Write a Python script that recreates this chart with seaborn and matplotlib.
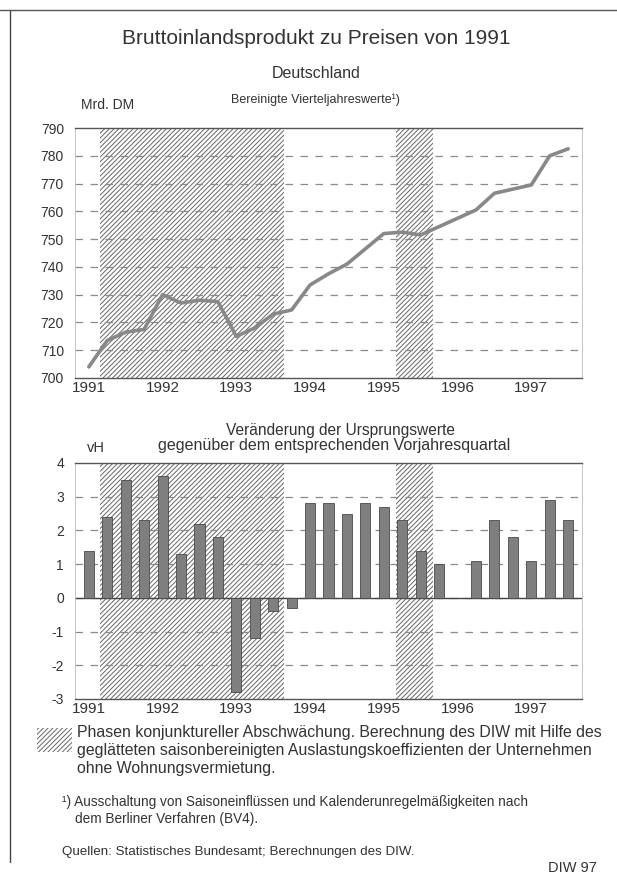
import numpy as np
import pandas as pd
import matplotlib
matplotlib.use('Agg')
from matplotlib import pyplot as plt
from matplotlib.patches import Rectangle
from matplotlib.lines import Line2D
from matplotlib.ticker import FuncFormatter
import seaborn as sns

# quarterly data 1991 Q1 .. 1997 Q3
quarters = list(range(27))
bip = [704, 713.5, 716.5, 717.5, 730, 727, 728, 727.5,
       715, 718, 723, 724.5, 733.5, 737.5, 741, 746.5,
       752, 752.5, 751.5, 754.5, 757.5, 760.5, 766.5, 768,
       769.5, 780, 782.5]
vh = [1.4, 2.4, 3.5, 2.3, 3.6, 1.3, 2.2, 1.8,
      -2.8, -1.2, -0.4, -0.3, 2.8, 2.8, 2.5, 2.8,
      2.7, 2.3, 1.4, 1.0, np.nan, 1.1, 2.3, 1.8,
      1.1, 2.9, 2.3]
years = ['1991', '1992', '1993', '1994', '1995', '1996', '1997']
# phases of economic slowdown (in quarter units)
phases = [(0.6, 10.6), (16.65, 18.65)]

df_line = pd.DataFrame({'q': quarters, 'bip': bip})
df_bar = pd.DataFrame({'q': quarters, 'vh': vh})

sns.set_style('white')
plt.rcParams['font.family'] = ['Liberation Sans', 'DejaVu Sans']
plt.rcParams['hatch.linewidth'] = 0.7
plt.rcParams['hatch.color'] = '#666666'

W, H = 617, 875
fig = plt.figure(figsize=(W / 100, H / 100), dpi=100)
fig.patch.set_facecolor('white')

def box(x0, y0, x1, y1):
    return [x0 / W, 1 - y1 / H, (x1 - x0) / W, (y1 - y0) / H]

def ft(x, y, s, **kw):
    fig.text(x / W, 1 - y / H, s, color='#333333', **kw)

TXT = '#333333'
GRID = '#8a8a8a'
HATCH = '///////'

def style_axis(ax, yticks):
    ax.set_xlim(-0.75, 26.75)
    for a, b in phases:
        ax.axvspan(a, b, facecolor='white', edgecolor='#666666', hatch=HATCH,
                   linewidth=0, zorder=0)
    ax.set_yticks(yticks)
    ax.yaxis.set_major_formatter(FuncFormatter(lambda v, p: '%d' % v))
    for t in yticks[1:-1]:
        ax.axhline(t, color=GRID, lw=0.9, ls=(0, (6, 6)), zorder=1)
    ax.set_xticks(range(0, 27, 4))
    ax.set_xticklabels(years)
    ax.tick_params(axis='x', direction='in', length=3, color='#555555',
                   labelsize=11, labelcolor=TXT, pad=2)
    ax.tick_params(axis='y', length=0, labelsize=10, labelcolor=TXT, pad=8)
    for s in ['top', 'bottom']:
        ax.spines[s].set_color('#555555')
        ax.spines[s].set_linewidth(1.0)
    for s in ['left', 'right']:
        ax.spines[s].set_color('#bbbbbb')
        ax.spines[s].set_linewidth(0.6)
    ax.set_xlabel('')
    ax.set_ylabel('')
    ax.set_facecolor('white')

# upper chart
ax1 = fig.add_axes(box(75, 128, 582, 378))
sns.lineplot(data=df_line, x='q', y='bip', ax=ax1, color='#888888',
             linewidth=2.6, zorder=3)
ax1.set_ylim(700, 790)
style_axis(ax1, list(range(700, 791, 10)))

# lower chart
ax2 = fig.add_axes(box(75, 463, 582, 699))
sns.barplot(data=df_bar, x='q', y='vh', ax=ax2, native_scale=True, width=0.55,
            color='#7f7f7f', edgecolor='#4a4a4a', linewidth=0.6,
            saturation=1, errorbar=None, zorder=3)
ax2.set_ylim(-3, 4)
style_axis(ax2, list(range(-3, 5)))
ax2.axhline(0, color='#444444', lw=1.0, zorder=2)

# titles
ft(316, 38, 'Bruttoinlandsprodukt zu Preisen von 1991', fontsize=15,
   ha='center', va='center')
ft(316, 73, 'Deutschland', fontsize=11.5, ha='center', va='center')
ft(315, 100, 'Bereinigte Vierteljahreswerte\u00b9)', fontsize=9,
   ha='center', va='center')
ft(81, 105, 'Mrd. DM', fontsize=10, ha='left', va='center')
ft(340, 430, 'Veränderung der Ursprungswerte', fontsize=11.2,
   ha='center', va='center')
ft(334, 446, 'gegenüber dem entsprechenden Vorjahresquartal', fontsize=11.5,
   ha='center', va='center')
ft(96, 448, 'vH', fontsize=10.5, ha='center', va='center')

# legend for hatched phases
fig.add_artist(Rectangle((37 / W, 1 - 752 / H), 35 / W, 24 / H,
                         transform=fig.transFigure, facecolor='white',
                         edgecolor='#666666', hatch=HATCH, linewidth=0))
legend_lines = ['Phasen konjunktureller Abschwächung. Berechnung des DIW mit Hilfe des',
                'geglätteten saisonbereinigten Auslastungskoeffizienten der Unternehmen',
                'ohne Wohnungsvermietung.']
for i, s in enumerate(legend_lines):
    ft(77, 732 + i * 18, s, fontsize=11.4, ha='left', va='center')

ft(62, 802, '\u00b9) Ausschaltung von Saisoneinflüssen und Kalenderunregelmäßigkeiten nach',
   fontsize=9.8, ha='left', va='center')
ft(75, 819, 'dem Berliner Verfahren (BV4).', fontsize=9.8, ha='left', va='center')
ft(62, 852, 'Quellen: Statistisches Bundesamt; Berechnungen des DIW.',
   fontsize=9.6, ha='left', va='center')
ft(597, 868, 'DIW 97', fontsize=10.5, ha='right', va='center')

# page frame
fig.add_artist(Line2D([10 / W, 10 / W], [1 - 10 / H, 1 - 862 / H],
                      transform=fig.transFigure, color='#444444', lw=1.0))
fig.add_artist(Line2D([0, 1], [1 - 10 / H, 1 - 10 / H],
                      transform=fig.transFigure, color='#555555', lw=1.0))

fig.savefig('out.png', dpi=100, facecolor='white')
